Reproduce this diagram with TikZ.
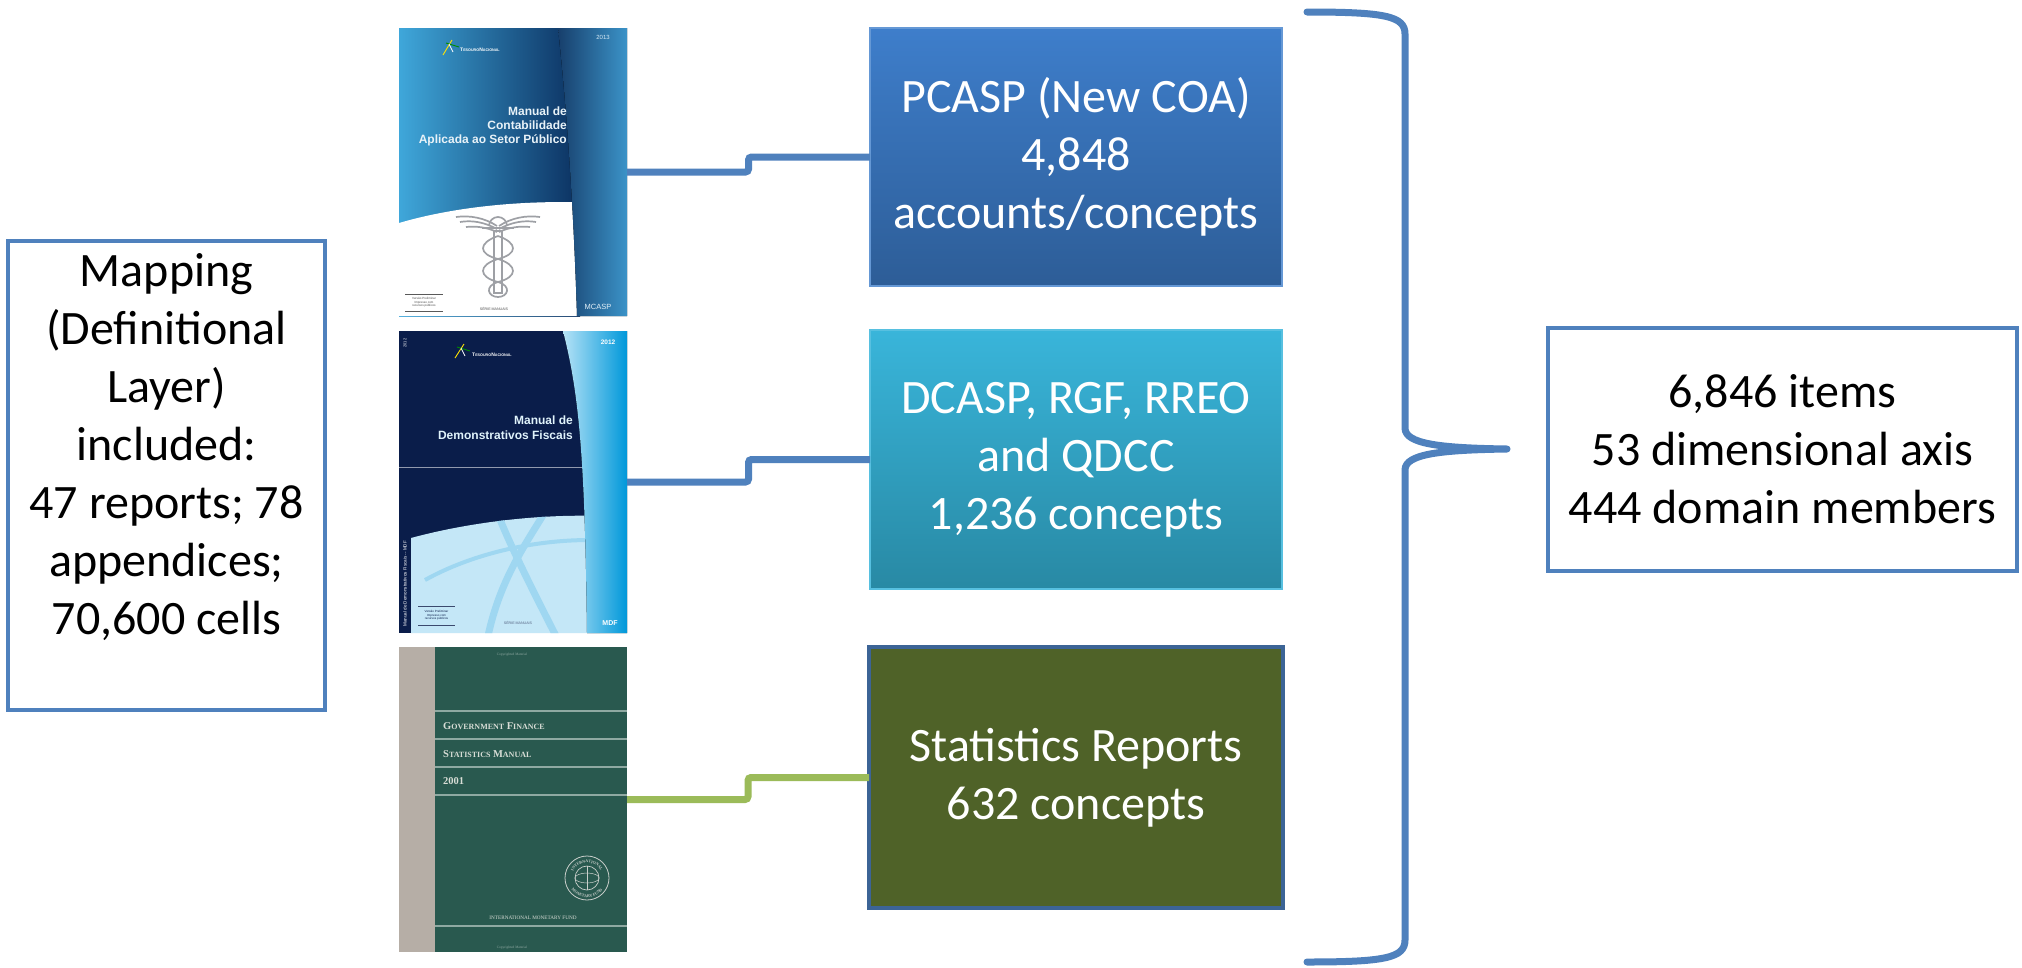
\documentclass[tikz,border=0pt]{standalone}
\usepackage{fontspec}
\setmainfont{Carlito}
\newfontfamily\arialf{Liberation Sans}
\newfontfamily\timesf{Liberation Serif}
\usetikzlibrary{calc,decorations.text}

\definecolor{obl}{HTML}{4F81BD}
\definecolor{ogr}{HTML}{9BBB59}
\definecolor{olive}{HTML}{4F6228}
\definecolor{oliveb}{HTML}{3C6496}
\definecolor{pcaT}{HTML}{3E7ECB}
\definecolor{pcaB}{HTML}{2D5D97}
\definecolor{dcaT}{HTML}{39B5DA}
\definecolor{dcaB}{HTML}{2889A4}
\definecolor{mcL}{HTML}{3FA7DA}
\definecolor{mcD}{HTML}{0B3060}
\definecolor{mcSL}{HTML}{173F6C}
\definecolor{mcSR}{HTML}{3B93C8}
\definecolor{mdN}{HTML}{0A1D4A}
\definecolor{mdL}{HTML}{C4E7F7}
\definecolor{mdA}{HTML}{9FD7F1}
\definecolor{mdSL}{HTML}{B5E2F6}
\definecolor{mdSR}{HTML}{0098DA}
\definecolor{gfT}{HTML}{29594F}
\definecolor{gfG}{HTML}{B6AEA6}
\definecolor{gfLn}{HTML}{8FA9A2}
\definecolor{gfTx}{HTML}{D8DDD6}
\definecolor{sealc}{HTML}{C9CFCB}
\definecolor{cadu}{HTML}{9EA0A5}

\newcommand\tnlogo{{\fontsize{5}{5}\selectfont T}{\fontsize{3.7}{5}\selectfont ESOURO}{\fontsize{5}{5}\selectfont N}{\fontsize{3.7}{5}\selectfont ACIONAL}}
\newcommand\mysc[2]{{\fontsize{10.5}{10.5}\selectfont #1}{\fontsize{8}{10.5}\selectfont #2}}
\newcommand\sealfont{\timesf\bfseries\fontsize{4}{4}\selectfont}

\tikzset{
  wbox/.style={draw=obl, line width=4.5pt, fill=white, inner sep=0pt, outer sep=0pt},
  cbox/.style={inner sep=0pt, outer sep=0pt, text=white, align=center,
    font=\fontsize{48}{58}\selectfont},
  txt/.style={align=center, inner sep=0pt, font=\fontsize{48}{58}\selectfont},
  conn/.style={line width=7pt, rounded corners=3pt},
  bookbox/.style={inner sep=0pt, outer sep=0pt, minimum width=228pt},
  brace/.style={draw=obl, line width=7pt, line cap=round, line join=round},
  tiny/.style={inner sep=0pt, font=\arialf\fontsize{3}{3.4}\selectfont, align=center}
}

\begin{document}
\begin{tikzpicture}[x=1pt,y=-1pt]
\useasboundingbox[fill=white] (0,0) rectangle (2022,967);

% ---------------- book cover 1 (MCASP 2013) ----------------
\node[bookbox, minimum height=288pt] (b1) at (513,172) {};
\begin{scope}
  \clip (399,28) rectangle (627,316);
  \fill[left color=mcL, right color=mcD] (399,28) rectangle (580,316);
  \fill[white] (399,223) .. controls (450,208) and (520,199) .. (600,203) -- (600,316) -- (399,316) -- cycle;
  \fill[left color=mcSL, right color=mcSR] (558,28) .. controls (568,120) and (574,220) .. (577,316) -- (627,316) -- (627,28) -- cycle;
  % caduceus
  \begin{scope}[draw=cadu, line width=1.7pt]
    \draw (497,226) .. controls (485,218) and (470,215) .. (456,217);
    \draw (497,229) .. controls (484,222) and (472,220) .. (460,222);
    \draw (497,232) .. controls (486,227) and (476,226) .. (466,227);
    \draw (499,226) .. controls (511,218) and (526,215) .. (540,217);
    \draw (499,229) .. controls (512,222) and (524,220) .. (536,222);
    \draw (499,232) .. controls (510,227) and (520,226) .. (530,227);
    \draw (489,226) arc[start angle=180, end angle=360, radius=9];
    \draw (482,228) -- (514,228);
    \draw (494,231) rectangle (502,293);
    \draw (498,236) .. controls (518,243) and (518,254) .. (498,259) .. controls (478,265) and (478,277) .. (498,282) .. controls (512,286) and (508,297) .. (498,297);
    \draw (498,236) .. controls (478,243) and (478,254) .. (498,259) .. controls (518,265) and (518,277) .. (498,282) .. controls (484,286) and (488,297) .. (498,297);
  \end{scope}
  \draw[gray!70!black, line width=0.9pt] (405,294) -- (443,294);
  \draw[gray!70!black, line width=0.9pt] (405,311) -- (443,311);
  \node[tiny, text=black!70] at (424,302.5) {Versão Preliminar\\Impresso com\\recursos públicos};
  \node[inner sep=0pt, font=\arialf\fontsize{3.6}{4}\selectfont, text=black!70] at (494,309) {SÉRIE MANUAIS};
\end{scope}
\draw[yellow!85!orange, line width=0.9pt] (443,55) -- (452,40);
\draw[green!55!black, line width=0.9pt] (446,43) -- (459,47);
\draw[white, line width=0.7pt] (449,44) -- (453,52);
\node[inner sep=0pt, anchor=west, text=white, font=\arialf\bfseries] at (460,50) {\tnlogo};
\node[inner sep=0pt, text=white!80!mcSR, font=\arialf\fontsize{6}{6}\selectfont] at (603,37) {2013};
\node[inner sep=0pt, anchor=east, align=right, text=white!88!mcSR, font=\arialf\bfseries\fontsize{12}{14}\selectfont] at (567,126) {Manual de\\Contabilidade\\Aplicada ao Setor Público};
\node[inner sep=0pt, text=white!85!mcSR, font=\arialf\fontsize{7.5}{8}\selectfont] at (598,307) {MCASP};

% ---------------- book cover 2 (MDF 2012) ----------------
\node[bookbox, minimum height=302pt] (b2) at (513,482) {};
\begin{scope}
  \clip (399,331) rectangle (627,633);
  \fill[mdN] (399,331) rectangle (627,633);
  \fill[mdL] (411,538) .. controls (470,522) and (540,514) .. (600,516) -- (600,633) -- (411,633) -- cycle;
  \begin{scope}
    \clip (411,538) .. controls (470,522) and (540,514) .. (600,516) -- (600,633) -- (411,633) -- cycle;
    \draw[mdA, line width=7pt] (497,512) .. controls (510,545) and (530,585) .. (556,636);
    \draw[mdA, line width=7pt] (545,512) .. controls (525,545) and (500,580) .. (488,636);
    \draw[mdA, line width=4pt] (425,580) .. controls (470,555) and (530,540) .. (590,540);
  \end{scope}
  \draw[white!55!mdN, line width=0.7pt] (399,467) -- (590,467);
  \fill[left color=mdSL, right color=mdSR] (563,331) .. controls (578,390) and (585,450) .. (587,633) -- (627,633) -- (627,331) -- cycle;
  \draw[mdN!80, line width=0.9pt] (418,606) -- (455,606);
  \draw[mdN!80, line width=0.9pt] (418,625) -- (455,625);
  \node[tiny, text=mdN] at (436.5,615.5) {Versão Preliminar\\Impresso com\\recursos públicos};
  \node[inner sep=0pt, font=\arialf\fontsize{3.6}{4}\selectfont, text=mdN!70] at (518,623) {SÉRIE MANUAIS};
\end{scope}
\node[inner sep=0pt, rotate=90, anchor=west, text=white, font=\arialf\fontsize{4.6}{5}\selectfont] at (405,627) {Manual de Demonstrativos Fiscais -- MDF};
\node[inner sep=0pt, rotate=90, text=white!80, font=\arialf\fontsize{4}{4}\selectfont] at (405,343) {2012};
\draw[yellow!85!orange, line width=0.9pt] (455,358) -- (464,344);
\draw[green!55!black, line width=0.9pt] (457,347) -- (470,351);
\draw[white, line width=0.7pt] (461,348) -- (465,356);
\node[inner sep=0pt, anchor=west, text=white, font=\arialf\bfseries] at (472,355) {\tnlogo};
\node[inner sep=0pt, text=white, font=\arialf\bfseries\fontsize{6.5}{7}\selectfont] at (608,342) {2012};
\node[inner sep=0pt, anchor=east, align=right, text=white!88!mdSR, font=\arialf\bfseries\fontsize{12}{15}\selectfont] at (573,427.5) {Manual de\\Demonstrativos Fiscais};
\node[inner sep=0pt, text=white, font=\arialf\bfseries\fontsize{7}{7}\selectfont] at (610,623) {MDF};

% ---------------- book cover 3 (GFSM 2001) ----------------
\node[bookbox, minimum height=305pt] (b3) at (513,799.5) {};
\fill[gfT] (399,647) rectangle (627,952);
\fill[gfG] (399,647) rectangle (435,952);
\foreach \yy in {711,739,767,795,926} \draw[gfLn, line width=1.3pt] (435,\yy) -- (627,\yy);
\node[inner sep=0pt, anchor=base west, text=gfTx, font=\timesf\bfseries] at (443,729.5) {\mysc{G}{OVERNMENT} \mysc{F}{INANCE}};
\node[inner sep=0pt, anchor=base west, text=gfTx, font=\timesf\bfseries] at (443,757) {\mysc{S}{TATISTICS} \mysc{M}{ANUAL}};
\node[inner sep=0pt, anchor=base west, text=gfTx, font=\timesf\bfseries\fontsize{10.5}{10.5}\selectfont] at (443,784.5) {2001};
\draw[sealc, line width=0.8pt] (587,878) circle[radius=22];
\draw[sealc, line width=0.7pt] (587,878) circle[radius=12];
\draw[sealc, line width=0.5pt] (587,878) ellipse[x radius=12, y radius=5];
\draw[sealc, line width=0.5pt] (587,866) -- (587,890);
\path[decorate, decoration={text along path, text={|\sealfont|INTERNATIONAL}, text align=center, text color=sealc}]
  (587,878) ++(200:15.5) arc[start angle=200, end angle=340, radius=15.5];
\path[decorate, decoration={text along path, text={|\sealfont|MONETARY FUND}, text align=center, text color=sealc}]
  (587,878) ++(155:19.5) arc[start angle=155, end angle=25, radius=19.5];
\node[inner sep=0pt, text=gfTx, font=\timesf\fontsize{5.2}{6}\selectfont] at (533,918) {INTERNATIONAL MONETARY FUND};
\node[inner sep=0pt, text=gfLn, font=\timesf\fontsize{3.5}{4}\selectfont] at (512,655) {Copyrighted Material};
\node[inner sep=0pt, text=gfLn, font=\timesf\fontsize{3.5}{4}\selectfont] at (512,948) {Copyrighted Material};

% ---------------- boxes ----------------
\node[wbox, minimum width=317pt, minimum height=469pt] (map) at (166.5,475.5) {};
\node[txt] (maptxt) at (166.5,447.5) {Mapping\\(Definitional\\Layer)\\included:\\47 reports; 78\\appendices;\\70,600 cells};

\node[cbox, top color=pcaT, bottom color=pcaB, draw=pcaT!80!white, line width=1.2pt,
      minimum width=412pt, minimum height=258pt] (p1) at (1076,157)
      {PCASP (New COA)\\4,848\\accounts/concepts};
\node[cbox, top color=dcaT, bottom color=dcaB, draw=dcaT!85!white, line width=1.2pt,
      minimum width=412pt, minimum height=259pt] (p2) at (1076,459.5)
      {DCASP, RGF, RREO\\and QDCC\\1,236 concepts};
\node[cbox, fill=olive, draw=oliveb, line width=4.5pt,
      minimum width=414pt, minimum height=261pt] (p3) at (1076,777.5)
      {Statistics Reports\\632 concepts};

\node[wbox, minimum width=469pt, minimum height=243pt] (res) at (1782.5,449.5) {};
\node[txt] (restxt) at (res.center) {6,846 items\\53 dimensional axis\\444 domain members};

% ---------------- connectors ----------------
\draw[conn, draw=obl] (b1.east) -| ($(b1.east)!0.5!(p1.west)$) |- (p1.west);
\draw[conn, draw=obl] (b2.east) -| ($(b2.east)!0.5!(p2.west)$) |- (p2.west);
\draw[conn, draw=ogr] (b3.east) -| ($(b3.east)!0.5!(p3.west)$) |- (p3.west);

% ---------------- brace ----------------
\coordinate (bt) at (1307,12);
\coordinate (bb) at (1307,962);
\coordinate (btip) at (1507,449);
\draw[brace] (bt) .. controls (1385,12) and (1405,16) .. (1405,34)
  -- (1405,428) .. controls (1405,444) and (1440,448) .. (btip)
  .. controls (1440,450) and (1405,454) .. (1405,470)
  -- (1405,940) .. controls (1405,958) and (1385,962) .. (bb);
\end{tikzpicture}
\end{document}
